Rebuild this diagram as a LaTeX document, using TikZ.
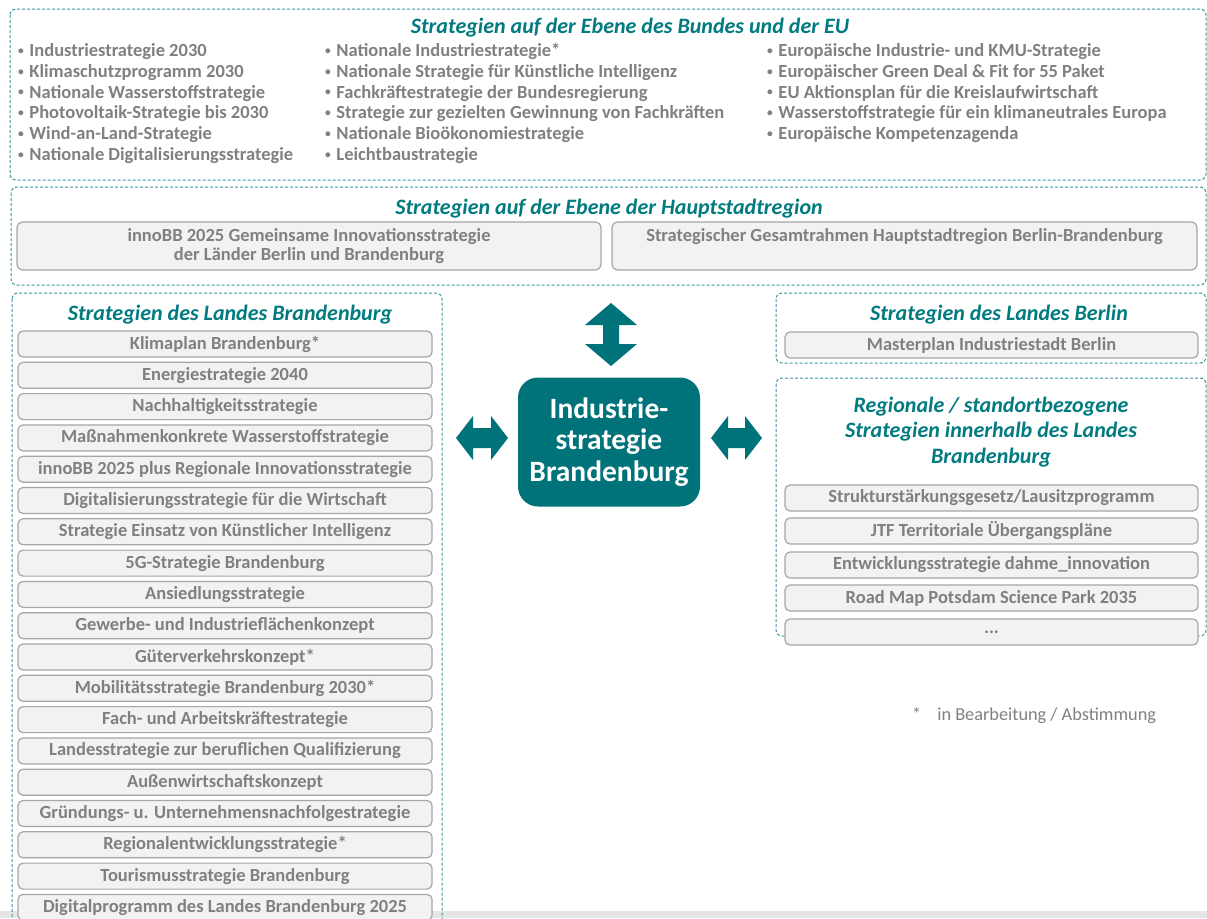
\documentclass[tikz,border=0pt]{standalone}
\usepackage{fontspec}
\usepackage{graphicx}
\setmainfont{Carlito}
\definecolor{teal1}{HTML}{00737A}
\definecolor{tealtitle}{HTML}{007B80}
\definecolor{dashteal}{HTML}{3A98A0}
\definecolor{txtgray}{HTML}{808080}
\definecolor{boxfill}{HTML}{F2F2F2}
\definecolor{boxdraw}{HTML}{A6A6A6}
\newcommand\blt{\raisebox{0.12em}{\scalebox{0.62}{•}}\hspace{0.3em}}
\tikzset{
  dbox/.style={draw=dashteal, line width=1pt, dash pattern=on 3pt off 2pt, rounded corners=6pt},
  itembox/.style={draw=boxdraw, fill=boxfill, line width=1.2pt, rounded corners=5pt, minimum height=26pt, inner sep=0pt, text=txtgray, font=\fontsize{18.5}{20}\selectfont\bfseries},
  ttl/.style={text=tealtitle, font=\fontsize{22}{25}\selectfont\bfseries\itshape, inner sep=0pt, align=center},
  bl/.style={text=txtgray, font=\fontsize{18.5}{20.7}\selectfont\bfseries, inner sep=0pt, anchor=base west},
  blockarrow/.style={fill=teal1, draw=none}
}
\begin{document}
\begin{tikzpicture}[x=1pt,y=-1pt]
\useasboundingbox (0,0) rectangle (1207,918);
\clip (0,0) rectangle (1207,918);
\fill[white] (0,0) rectangle (1207,918);
\fill[gray!20] (0,911) rectangle (1207,918);

% Box 1: Bund und EU
\draw[dbox] (10,9) rectangle (1206,180);
\node[ttl] (t1) at (630,28) {Strategien auf der Ebene des Bundes und der EU};
\foreach \t [count=\i from 0] in {Industriestrategie 2030,Klimaschutzprogramm 2030,Nationale Wasserstoffstrategie,Photovoltaik-Strategie bis 2030,Wind-an-Land-Strategie,Nationale Digitalisierungsstrategie}
  \node[bl] (ca\i) at (18,{56.5+20.8*\i}) {\blt\t};
\foreach \t [count=\i from 0] in {Nationale Industriestrategie*,Nationale Strategie für Künstliche Intelligenz,Fachkräftestrategie der Bundesregierung,Strategie zur gezielten Gewinnung von Fachkräften,Nationale Bioökonomiestrategie,Leichtbaustrategie}
  \node[bl] (cb\i) at (325,{56.5+20.8*\i}) {\blt\t};
\foreach \t [count=\i from 0] in {Europäische Industrie- und KMU-Strategie,Europäischer Green Deal \& Fit for 55 Paket,EU Aktionsplan für die Kreislaufwirtschaft,Wasserstoffstrategie für ein klimaneutrales Europa,Europäische Kompetenzagenda}
  \node[bl] (cc\i) at (767,{56.5+20.8*\i}) {\blt\t};

% Box 2: Hauptstadtregion
\draw[dbox] (11,187) rectangle (1206,285);
\node[ttl] (t2) at (609,209) {Strategien auf der Ebene der Hauptstadtregion};
\draw[draw=boxdraw, fill=boxfill, line width=1.2pt, rounded corners=6pt] (17,222) rectangle (601,270);
\node[text=txtgray, font=\fontsize{18.5}{19}\selectfont\bfseries, align=center, inner sep=0pt] (h1) at (309,246) {innoBB 2025 Gemeinsame Innovationsstrategie\\der Länder Berlin und Brandenburg};
\draw[draw=boxdraw, fill=boxfill, line width=1.2pt, rounded corners=6pt] (612,222) rectangle (1197,270);
\node[text=txtgray, font=\fontsize{18.5}{19}\selectfont\bfseries, inner sep=0pt] (h2) at (904.5,237) {Strategischer Gesamtrahmen Hauptstadtregion Berlin-Brandenburg};

% Box 3: Brandenburg
\draw[dbox] (12,293) rectangle (442,940);
\node[ttl] (t3) at (230,315) {Strategien des Landes Brandenburg};
\foreach \t [count=\i from 0] in {Klimaplan Brandenburg*,Energiestrategie 2040,Nachhaltigkeitsstrategie,Maßnahmenkonkrete Wasserstoffstrategie,innoBB 2025 plus Regionale Innovationsstrategie,Digitalisierungsstrategie für die Wirtschaft,Strategie Einsatz von Künstlicher Intelligenz,5G-Strategie Brandenburg,Ansiedlungsstrategie,Gewerbe- und Industrieflächenkonzept,Güterverkehrskonzept*,Mobilitätsstrategie Brandenburg 2030*,Fach- und Arbeitskräftestrategie,Landesstrategie zur beruflichen Qualifizierung,Außenwirtschaftskonzept,Gründungs- u. Unternehmensnachfolgestrategie,Regionalentwicklungsstrategie*,Tourismusstrategie Brandenburg,Digitalprogramm des Landes Brandenburg 2025}
  \node[itembox, minimum width=414pt] (bb\i) at (225,{344+\i*31.3}) {\t};

% Box 4: Berlin
\draw[dbox] (776,293) rectangle (1206,363);
\node[ttl] (t4) at (999,315) {Strategien des Landes Berlin};
\node[itembox, minimum width=413pt] (be0) at (991.5,345) {Masterplan Industriestadt Berlin};

% Box 5: Regional
\draw[dbox] (776,378) rectangle (1206,636);
\node[ttl, font=\fontsize{22}{25.5}\selectfont\bfseries\itshape] (t5) at (991,432) {Regionale / standortbezogene\\Strategien innerhalb des Landes\\Brandenburg};
\node[itembox, minimum width=413pt] (rg0) at (991.5,498) {Strukturstärkungsgesetz/Lausitzprogramm};
\node[itembox, minimum width=413pt] (rg1) at (991.5,531) {JTF Territoriale Übergangspläne};
\node[itembox, minimum width=413pt] (rg2) at (991.5,565) {Entwicklungsstrategie dahme\_innovation};
\node[itembox, minimum width=413pt] (rg3) at (991.5,598) {Road Map Potsdam Science Park 2035};
\node[itembox, minimum width=413pt] (rg4) at (991.5,632) {...};

% Central box
\node[fill=teal1, rounded corners=20pt, minimum width=182pt, minimum height=129pt, inner sep=0pt, text=white, align=center, font=\fontsize{29.5}{31.5}\selectfont\bfseries] (center) at (609,442) {Industrie-\\strategie\\Brandenburg};

% Block arrows
\fill[blockarrow] (611,303) -- (637,325) -- (619,325) -- (619,344) -- (637,344) -- (611,366) -- (585,344) -- (603,344) -- (603,325) -- (585,325) -- cycle;
\fill[blockarrow] (456,438) -- (473,416) -- (473,428) -- (491,428) -- (491,416) -- (508,438) -- (491,460) -- (491,448) -- (473,448) -- (473,460) -- cycle;
\fill[blockarrow] (711,438) -- (728,416) -- (728,428) -- (745,428) -- (745,416) -- (762,438) -- (745,460) -- (745,448) -- (728,448) -- (728,460) -- cycle;

% Footnote
\node[anchor=west, text=txtgray, font=\fontsize{18.3}{20}\selectfont, inner sep=0pt] (fn) at (912,716) {*\hspace{16pt}in Bearbeitung / Abstimmung};
\end{tikzpicture}
\end{document}
